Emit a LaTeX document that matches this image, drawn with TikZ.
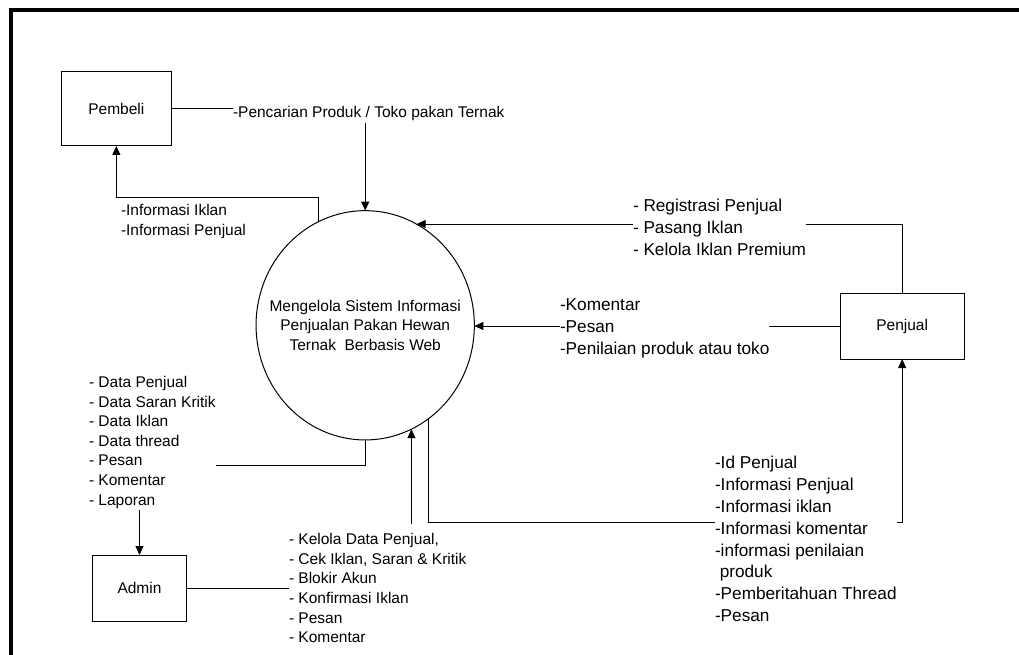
\documentclass[tikz,border=0pt]{standalone}
\usepackage{fontspec}
\setmainfont{Liberation Sans}
\usetikzlibrary{shapes.geometric,arrows.meta}
\begin{document}
\begin{tikzpicture}[x=1pt,y=-1pt,
  line width=1pt,
  arr/.style={-{Triangle[length=9pt,width=8pt]}},
  entity/.style={draw,rectangle,inner sep=0pt,outer sep=0pt,font=\fontsize{15.5}{19.6}\selectfont},
  proc/.style={draw,ellipse,inner sep=0pt,outer sep=0pt,minimum width=218.3pt,minimum height=229.3pt},
  small/.style={inner sep=0pt,outer sep=0pt,anchor=base west,align=left,font=\fontsize{15.5}{19.6}\selectfont},
  large/.style={inner sep=0pt,outer sep=0pt,anchor=base west,align=left,font=\fontsize{17.2}{21.9}\selectfont}]
\useasboundingbox (0,0) rectangle (1019,655);
% frame
\draw[line width=4pt] (11,660) -- (11,10) -- (1025,10);

% entities
\node[entity,minimum width=109.3pt,minimum height=74.3pt] (pembeli) at (116.35,108.85) {Pembeli};
\node[entity,minimum width=124.3pt,minimum height=66pt] (penjual) at (902.15,326) {Penjual};
\node[entity,minimum width=93.6pt,minimum height=66pt] (admin) at (139.5,588) {Admin};

% process
\node[proc] (proc) at (365.2,325.3) {};
\node[inner sep=0pt,align=center,font=\fontsize{15.5}{19.3}\selectfont] (proctext) at (proc.center)
  {Mengelola Sistem Informasi\\Penjualan Pakan Hewan\\Ternak\ \ Berbasis Web};

% labels (multi-line: anchor at baseline of last line)
\node[small] (tcari) at (233,118) {-Pencarian Produk / Toko pakan Ternak};
\node[small] (tinfo) at (121,235) {-Informasi Iklan\\-Informasi Penjual};
\node[large] (treg) at (633,255) {- Registrasi Penjual\\- Pasang Iklan\\- Kelola Iklan Premium};
\node[large] (tkom) at (560,354) {-Komentar\\-Pesan\\-Penilaian produk atau toko};
\node[large] (tid) at (715,621.7) {-Id Penjual\\-Informasi Penjual\\-Informasi iklan\\-Informasi komentar\\-informasi penilaian\\\ produk\\-Pemberitahuan Thread\\-Pesan};
\node[small] (tdata) at (89,505) {- Data Penjual\\- Data Saran Kritik\\- Data Iklan\\- Data thread\\- Pesan\\- Komentar\\- Laporan};
\node[small] (tkel) at (289,642.7) {- Kelola Data Penjual,\\- Cek Iklan, Saran \& Kritik\\- Blokir Akun\\- Konfirmasi Iklan\\- Pesan\\- Komentar};

% helper coordinates
\coordinate (k1) at (116.35,197);
\coordinate (k2) at (902.15,224);
\coordinate (k3) at (902.15,522.7);
\coordinate (k4) at (365.2,465);

% Pembeli -> process
\draw (pembeli.east) -- (pembeli.east -| tcari.west);
\draw[arr] ([yshift=-2pt]tcari.south -| proc.north) -- (proc.north);
% process -> Pembeli
\draw[arr] (proc.114) |- (k1) -- (pembeli.south);

% Penjual -> process (registrasi)
\draw (penjual.north) |- (treg.east |- k2);
\draw[arr] (treg.west |- k2) -- (proc.63.23 |- k2);
% Penjual -> process (komentar)
\draw (penjual.west) -- (tkom.east |- penjual.west);
\draw[arr] (tkom.west |- penjual.west) -- (proc.east |- penjual.west);
% process -> Penjual
\draw (proc.-56.17) |- (tid.west |- k3);
\draw[arr] (tid.east |- k3) -| (penjual.south);

% process -> Admin
\draw (proc.south) |- (tdata.east |- k4);
\draw[arr] ([yshift=-2pt]tdata.south -| admin.north) -- (admin.north);
% Admin -> process
\draw (admin.east) -- (tkel.west |- admin.east);
\draw[arr] ([yshift=9pt]tkel.north -| proc.-66.41) -- (proc.-66.41);
\end{tikzpicture}
\end{document}
